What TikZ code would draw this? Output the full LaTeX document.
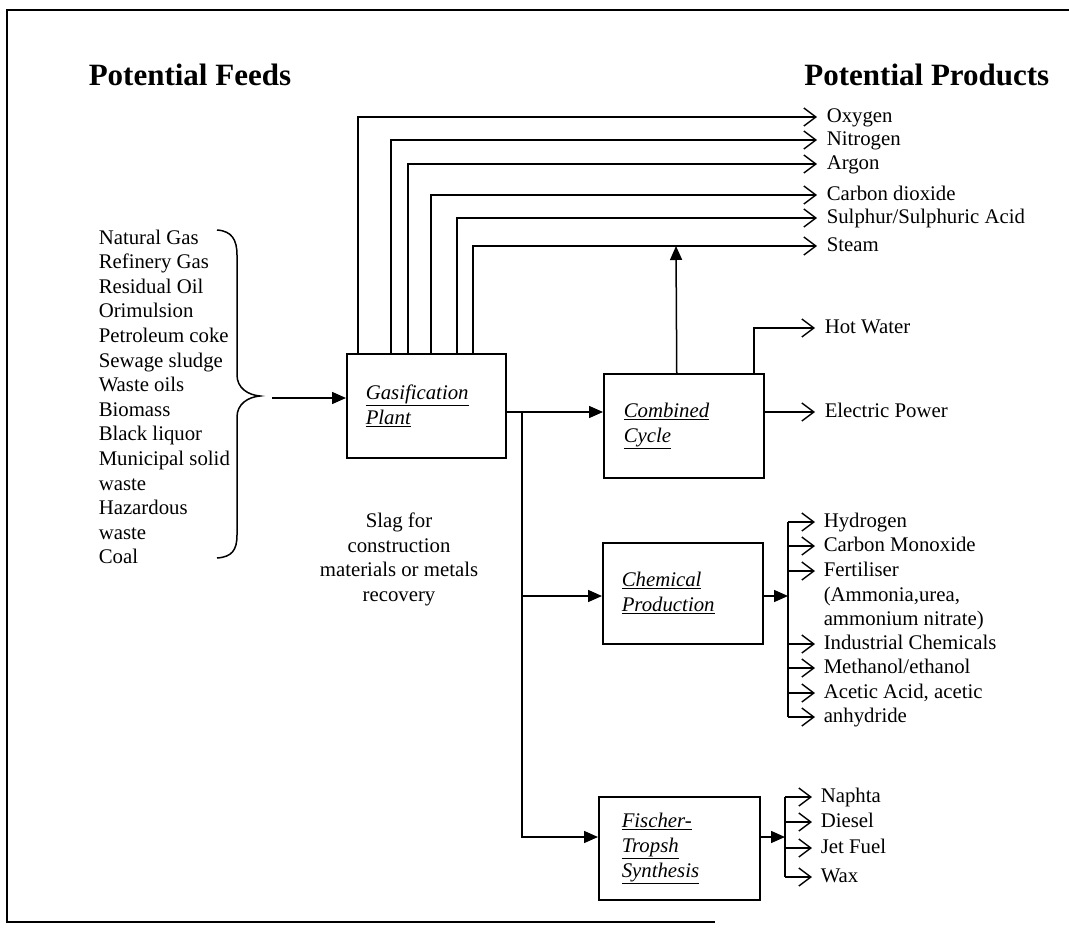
\documentclass[tikz,border=0pt]{standalone}
\usepackage{fontspec}
\setmainfont{Liberation Serif}
\usetikzlibrary{arrows.meta,calc}
\begin{document}
\begin{tikzpicture}[x=1pt,y=-1pt,
  line width=1.5pt,
  txt/.style={font=\fontsize{20.8}{24.6}\selectfont, inner sep=0pt},
  prod/.style={txt, anchor=west, inner xsep=9pt, inner ysep=0pt, text height=15pt, text depth=5pt},
  barb/.style={-{Straight Barb[length=12pt,width=18pt,line width=1.4pt]}},
  tri/.style={-{Triangle[length=14pt,width=12pt]}},
  box/.style={draw, font=\fontsize{20.8}{25}\selectfont, align=left, anchor=north west, inner ysep=0pt},
  title/.style={font=\fontsize{31}{36}\selectfont\bfseries, inner sep=0pt},
]
\useasboundingbox (0,0) rectangle (1069,929);
\fill[white] (0,0) rectangle (1069,929);
% frame
\draw (1069,10) -- (7,10) -- (7,922) -- (715,922);

% titles
\node[title, anchor=west] (tf) at (88,75) {Potential Feeds};
\node[title, anchor=east] (tp) at (1050,75) {Potential Products};

% feeds
\node[txt, align=left, anchor=north west] (feeds) at (98,229) {Natural Gas\\Refinery Gas\\Residual Oil\\Orimulsion\\Petroleum coke\\Sewage sludge\\Waste oils\\Biomass\\Black liquor\\Municipal solid\\waste\\Hazardous\\waste\\Coal};
% brace
\draw (217,230) .. controls (232,231) and (237,240) .. (237,255) -- (237,375)
  .. controls (237,388) and (248,395) .. (260,396)
  .. controls (248,397) and (237,404) .. (237,417) -- (237,535)
  .. controls (237,550) and (232,557) .. (217,558);

% boxes
\node[box, minimum width=159pt, minimum height=104pt, text width=121pt, inner xsep=19pt] (gas) at (346,353)
  {\underline{\textit{Gasification}}\\\underline{\textit{Plant}}};
\node[box, minimum width=160pt, minimum height=104pt, text width=120pt, inner xsep=20pt] (cc) at (603,373)
  {\underline{\textit{Combined}}\\\underline{\textit{Cycle}}};
\node[box, minimum width=160pt, minimum height=101pt, text width=122pt, inner xsep=19pt] (chem) at (602,542)
  {\underline{\textit{Chemical}}\\\underline{\textit{Production}}};
\node[box, minimum width=161pt, minimum height=103pt, text width=115pt, inner xsep=23pt] (ft) at (598,796)
  {\underline{\textit{Fischer-}}\\\underline{\textit{Tropsh}}\\\underline{\textit{Synthesis}}};

% slag text
\node[txt, align=center, anchor=north] (slag) at (399,512) {Slag for\\construction\\materials or metals\\recovery};

% feed arrow
\coordinate (bt) at (272,398);
\draw[tri] (bt) -- (gas.west |- bt);

% top products
\node[prod] (oxy) at (817,117) {Oxygen};
\node[prod] (nit) at (817,140) {Nitrogen};
\node[prod] (arg) at (817,164) {Argon};
\node[prod] (co2) at (817,195) {Carbon dioxide};
\node[prod] (sul) at (817,218) {Sulphur/Sulphuric Acid};
\node[prod] (stm) at (817,246) {Steam};
\draw[barb] ([xshift=12pt]gas.north west) |- (oxy.west);
\draw[barb] ([xshift=45pt]gas.north west) |- (nit.west);
\draw[barb] ([xshift=62pt]gas.north west) |- (arg.west);
\draw[barb] ([xshift=85pt]gas.north west) |- (co2.west);
\draw[barb] ([xshift=111pt]gas.north west) |- (sul.west);
\draw[barb] ([xshift=127pt]gas.north west) |- (stm.west);

% gas to units
\coordinate (j) at (522,412);
\coordinate (j2) at (522,596);
\coordinate (j3) at (522,837);
\draw (gas.east |- j) -- (j);
\draw[tri] (j) -- (cc.west |- j);
\draw[tri] (j) -- (j2) -- (chem.west |- j2);
\draw[tri] (j2) -- (j3) -- (ft.west |- j3);

% combined cycle outputs
\coordinate (sj) at (676,246);
\draw[tri] ([xshift=-7pt]cc.north) -- (sj);
\node[prod] (hw) at (815,328) {Hot Water};
\node[prod] (ep) at (815,412) {Electric Power};
\draw[barb] ([xshift=70pt]cc.north) |- (hw.west);
\draw[barb] (cc.east |- ep.west) -- (ep.west);

% chemical outputs
\node[prod, inner xsep=8pt] (h2) at (815,522) {Hydrogen};
\node[prod, inner xsep=8pt] (co) at (815,546) {Carbon Monoxide};
\node[prod, inner xsep=8pt] (fer) at (815,571) {Fertiliser};
\node[prod, inner xsep=8pt] (am1) at (815,596) {(Ammonia,urea,};
\node[prod, inner xsep=8pt] (am2) at (815,620) {ammonium nitrate)};
\node[prod, inner xsep=8pt] (ind) at (815,644) {Industrial Chemicals};
\node[prod, inner xsep=8pt] (meth) at (815,668) {Methanol/ethanol};
\node[prod, inner xsep=8pt] (acet) at (815,693) {Acetic Acid, acetic};
\node[prod, inner xsep=8pt] (anh) at (815,717) {anhydride};
\coordinate (cv) at (788,596);
\draw[tri] (chem.east |- cv) -- (cv);
\draw (cv |- h2.west) -- (cv |- anh.west);
\foreach \n in {h2,co,fer,ind,meth,acet,anh}
  \draw[barb] (cv |- \n.west) -- (\n.west);

% FT outputs
\node[prod, inner xsep=8pt] (nap) at (812,797) {Naphta};
\node[prod, inner xsep=8pt] (die) at (812,822) {Diesel};
\node[prod, inner xsep=8pt] (jet) at (812,848) {Jet Fuel};
\node[prod, inner xsep=8pt] (wax) at (812,877) {Wax};
\coordinate (fv) at (785,837);
\draw[tri] (ft.east |- fv) -- (fv);
\draw (fv |- nap.west) -- (fv |- wax.west);
\foreach \n in {nap,die,jet,wax}
  \draw[barb] (fv |- \n.west) -- (\n.west);
\end{tikzpicture}
\end{document}
